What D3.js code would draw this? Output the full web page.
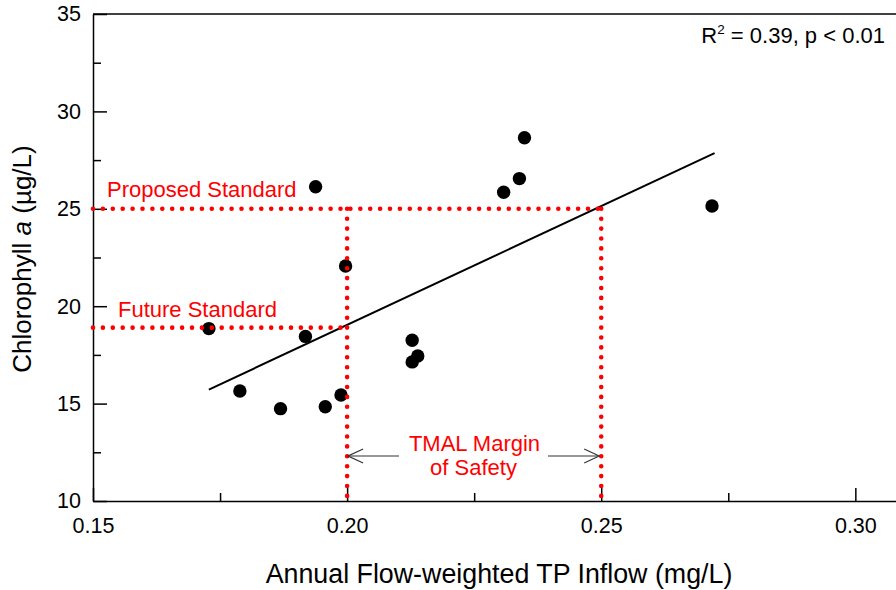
<!DOCTYPE html>
<html>
<head>
<meta charset="utf-8">
<script src="https://cdn.jsdelivr.net/npm/d3@7"></script>
<style>
  html, body { margin: 0; padding: 0; background: #fff; }
  svg { display: block; }
  text { font-family: "Liberation Sans", Arial, Helvetica, sans-serif; }
</style>
</head>
<body>
<svg id="chart" width="896" height="590"></svg>
<script>
// ---- data ----
const tpInflow = [0.1728, 0.1789, 0.1869, 0.1918, 0.1938, 0.1957, 0.1988, 0.1997, 0.2128, 0.2128, 0.2139, 0.2308, 0.2339, 0.2349, 0.2718];
const chlA     = [18.85, 15.65, 14.74, 18.45, 26.13, 14.84, 15.44, 22.06, 18.25, 17.14, 17.44, 25.85, 26.55, 28.65, 25.14];
const fitX = [0.1728, 0.2723];
const fitY = [15.72, 27.86];
const proposedStd = 25;
const futureStd = 18.9;
const tpAtFuture = 0.20;
const tpAtProposed = 0.25;
const xMajorTicks = [0.15, 0.20, 0.25, 0.30];
const xMinorTicks = [0.175, 0.225, 0.275];
const yMajorTicks = [10, 15, 20, 25, 30, 35];
const yMinorTicks = [12.5, 17.5, 22.5, 27.5, 32.5];
const statsLabel = ["R", "2", " = 0.39, p < 0.01"];

// ---- layout ----
const svg = d3.select("#chart");
const x = d3.scaleLinear().domain([0.15, 0.308]).range([93, 896]);
const y = d3.scaleLinear().domain([10, 35]).range([501, 14]);
const red = "#ff0000";

// axes
const gx = svg.append("g").attr("transform", `translate(0,${y(10)})`)
  .call(d3.axisBottom(x).tickValues(xMajorTicks).tickFormat(d3.format(".2f"))
        .tickSize(-13).tickSizeOuter(0).tickPadding(17));
const gxm = svg.append("g").attr("transform", `translate(0,${y(10)})`)
  .call(d3.axisBottom(x).tickValues(xMinorTicks).tickFormat("").tickSize(-8).tickSizeOuter(0));
gxm.select(".domain").remove();

const gy = svg.append("g").attr("transform", `translate(${x(0.15)},0)`)
  .call(d3.axisLeft(y).tickValues(yMajorTicks).tickFormat(d3.format("d"))
        .tickSize(-14).tickSizeOuter(0).tickPadding(12));
const gym = svg.append("g").attr("transform", `translate(${x(0.15)},0)`)
  .call(d3.axisLeft(y).tickValues(yMinorTicks).tickFormat("").tickSize(-8).tickSizeOuter(0));
gym.select(".domain").remove();

[gx, gxm, gy, gym].forEach(g => {
  g.selectAll("line").attr("stroke", "#000").attr("stroke-width", 1.5);
  g.selectAll(".domain").attr("stroke", "#000").attr("stroke-width", 1.5);
  g.selectAll("text").attr("font-size", 21.5).attr("fill", "#000")
    .attr("font-family", '"Liberation Sans", Arial, sans-serif');
});

// top frame line
svg.append("line")
  .attr("x1", x(0.15)).attr("x2", x.range()[1])
  .attr("y1", y(35)).attr("y2", y(35))
  .attr("stroke", "#000").attr("stroke-width", 1.5);

// regression line
svg.append("line")
  .attr("x1", x(fitX[0])).attr("y1", y(fitY[0]))
  .attr("x2", x(fitX[1])).attr("y2", y(fitY[1]))
  .attr("stroke", "#000").attr("stroke-width", 2);

// points
svg.append("g").selectAll("circle")
  .data(tpInflow.map((v, i) => [v, chlA[i]]))
  .join("circle")
  .attr("cx", d => x(d[0])).attr("cy", d => y(d[1]))
  .attr("r", 6.7).attr("fill", "#000");

// red dotted reference lines
const dotted = (x1, y1, x2, y2) => svg.append("line")
  .attr("x1", x1).attr("y1", y1).attr("x2", x2).attr("y2", y2)
  .attr("stroke", red).attr("stroke-width", 4.6)
  .attr("stroke-linecap", "round").attr("stroke-dasharray", "0,9.9");
dotted(x(0.15), y(proposedStd), x(tpAtProposed), y(proposedStd));
dotted(x(tpAtFuture), y(proposedStd), x(tpAtFuture), y(10));
dotted(x(tpAtProposed), y(proposedStd), x(tpAtProposed), y(10));
dotted(x(0.15), y(futureStd), x(tpAtFuture), y(futureStd));

// arrows
svg.append("defs").append("marker")
  .attr("id", "head").attr("viewBox", "-1 -9 17 18")
  .attr("refX", 15).attr("refY", 0)
  .attr("markerWidth", 17).attr("markerHeight", 18)
  .attr("markerUnits", "userSpaceOnUse").attr("orient", "auto")
  .append("path").attr("d", "M0,-7 L15,0 L0,7")
  .attr("fill", "none").attr("stroke", "#333").attr("stroke-width", 1.2);
const arrowY = 456;
svg.append("line").attr("x1", 399).attr("x2", x(tpAtFuture) + 1)
  .attr("y1", arrowY).attr("y2", arrowY)
  .attr("stroke", "#333").attr("stroke-width", 1.2).attr("marker-end", "url(#head)");
svg.append("line").attr("x1", 548).attr("x2", x(tpAtProposed) - 2)
  .attr("y1", arrowY).attr("y2", arrowY)
  .attr("stroke", "#333").attr("stroke-width", 1.2).attr("marker-end", "url(#head)");

// red labels
svg.append("text").attr("x", 107).attr("y", 197).attr("font-size", 22).attr("fill", red)
  .text("Proposed Standard");
svg.append("text").attr("x", 118).attr("y", 316.5).attr("font-size", 22).attr("fill", red)
  .text("Future Standard");
svg.append("text").attr("x", 474.5).attr("y", 451).attr("text-anchor", "middle")
  .attr("font-size", 22).attr("fill", red).text("TMAL Margin");
svg.append("text").attr("x", 473.5).attr("y", 475).attr("text-anchor", "middle")
  .attr("font-size", 22).attr("fill", red).text("of Safety");

// stats label
const st = svg.append("text").attr("x", 885).attr("y", 43).attr("text-anchor", "end")
  .attr("font-size", 22).attr("fill", "#000");
st.append("tspan").text(statsLabel[0]);
st.append("tspan").attr("font-size", 13.5).attr("dy", -9).text(statsLabel[1]);
st.append("tspan").attr("dy", 9).text(statsLabel[2]);

// axis titles
svg.append("text").attr("x", 499).attr("y", 583).attr("text-anchor", "middle")
  .attr("font-size", 26.8).attr("fill", "#000")
  .text("Annual Flow-weighted TP Inflow (mg/L)");
const yt = svg.append("text").attr("transform", "translate(31,259) rotate(-90)")
  .attr("text-anchor", "middle").attr("font-size", 26).attr("fill", "#000");
yt.append("tspan").text("Chlorophyll ");
yt.append("tspan").attr("font-style", "italic").text("a");
yt.append("tspan").text(" (µg/L)");
</script>
</body>
</html>
